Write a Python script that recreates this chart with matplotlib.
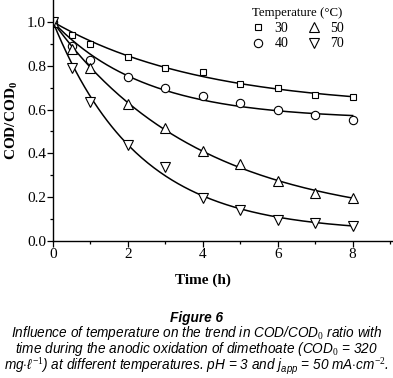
import numpy as np
import matplotlib
matplotlib.use('Agg')
import matplotlib.pyplot as plt

plt.rcParams['font.family'] = 'Liberation Serif'
plt.rcParams['mathtext.fontset'] = 'custom'
plt.rcParams['mathtext.rm'] = 'Liberation Serif'
plt.rcParams['mathtext.bf'] = 'Liberation Serif:bold'
plt.rcParams['mathtext.it'] = 'Liberation Sans:italic'

# dados
t = [0, 0.5, 1, 2, 3, 4, 5, 6, 7, 8]
temps = ['30', '40', '50', '70']
cod_30 = [1.0, 0.94, 0.90, 0.84, 0.79, 0.77, 0.716, 0.70, 0.665, 0.656]
cod_40 = [1.0, 0.89, 0.826, 0.75, 0.70, 0.66, 0.63, 0.60, 0.575, 0.55]
cod_50 = [1.0, 0.875, 0.79, 0.624, 0.515, 0.41, 0.35, 0.275, 0.22, 0.197]
cod_70 = [1.0, 0.79, 0.635, 0.44, 0.34, 0.197, 0.142, 0.096, 0.083, 0.069]
series = [cod_30, cod_40, cod_50, cod_70]
markers = ['s', 'o', '^', 'v']
msizes = [5, 6, 6.5, 6.5]


# ajuste de primeira ordem: y = c + (1-c)*exp(-k t)
def fit_curve(x, y):
    x = np.array(x)
    y = np.array(y)
    best = None
    for c in np.linspace(0, 0.9, 181):
        for k in np.linspace(0.01, 2, 400):
            err = np.sum((c + (1-c)*np.exp(-k*x) - y)**2)
            if best is None or err < best[0]:
                best = (err, c, k)
    return best[1], best[2]


fig = plt.figure(figsize=(3.93, 3.78), dpi=100)
ax = fig.add_axes([53/393, 1-241/378, 339/393, 241/378])

tt = np.linspace(0, 8, 200)
for y, m, ms, lab in zip(series, markers, msizes, temps):
    c, k = fit_curve(t, y)
    ax.plot(tt, c + (1-c)*np.exp(-k*tt), color='black', lw=1.1)
    ax.plot(t, y, m, mfc='white', mec='black', mew=0.8, ms=ms,
            linestyle='none', label=lab)

ax.set_xlim(0, 9.05)
ax.set_ylim(0, 1.1)
ax.set_xticks([0, 2, 4, 6, 8])
ax.set_xticks([1, 3, 5, 7, 9], minor=True)
ax.set_yticks([0.0, 0.2, 0.4, 0.6, 0.8, 1.0])
ax.set_yticks([0.1, 0.3, 0.5, 0.7, 0.9], minor=True)
ax.set_yticklabels(['0.0', '0.2', '0.4', '0.6', '0.8', '1.0'])
ax.tick_params(which='major', direction='out', length=4, width=0.9, labelsize=11, pad=1)
ax.tick_params(which='minor', direction='out', length=2.5, width=0.9)
ax.spines['top'].set_visible(False)
ax.spines['right'].set_visible(False)
for s in ['left', 'bottom']:
    ax.spines[s].set_linewidth(1.0)

ax.set_xlabel('Time (h)', fontsize=11, fontweight='bold')
ax.xaxis.set_label_coords((203-53)/339, -0.135)
ax.set_ylabel(r'COD/COD$_\mathbf{0}$', fontsize=11, fontweight='bold')
ax.yaxis.set_label_coords(-0.097, 0.5)

leg = ax.legend(ncol=2, frameon=False, title='Temperature (\u00b0C)',
                fontsize=10, title_fontsize=9.3, loc='upper left',
                bbox_to_anchor=(187/339, 1.012), handletextpad=0.6,
                columnspacing=1.2, labelspacing=0.2, borderpad=0.2,
                handlelength=1.2)

cap = dict(ha='center', family='Liberation Sans', style='italic',
           fontsize=9.8)
fig.text(0.5, 1-318/378, 'Figure 6', va='center', fontweight='bold', **cap)
legenda = (r'Influence of temperature on the trend in COD/COD$_\mathit{0}$ ratio with' + '\n'
           + r'time during the anodic oxidation of dimethoate (COD$_\mathit{0}$ = 320' + '\n'
           + r'mg$\cdot$$\mathit{\ell}^{\mathit{-1}}$) at different temperatures. pH = 3 and $\mathit{j}_{\mathit{app}}$ = 50 mA$\cdot$cm$^{\mathit{-2}}$.')
fig.text(0.5, 1-350/378, legenda, va='center', linespacing=0.8, **cap)

fig.savefig('out.png', dpi=100)
